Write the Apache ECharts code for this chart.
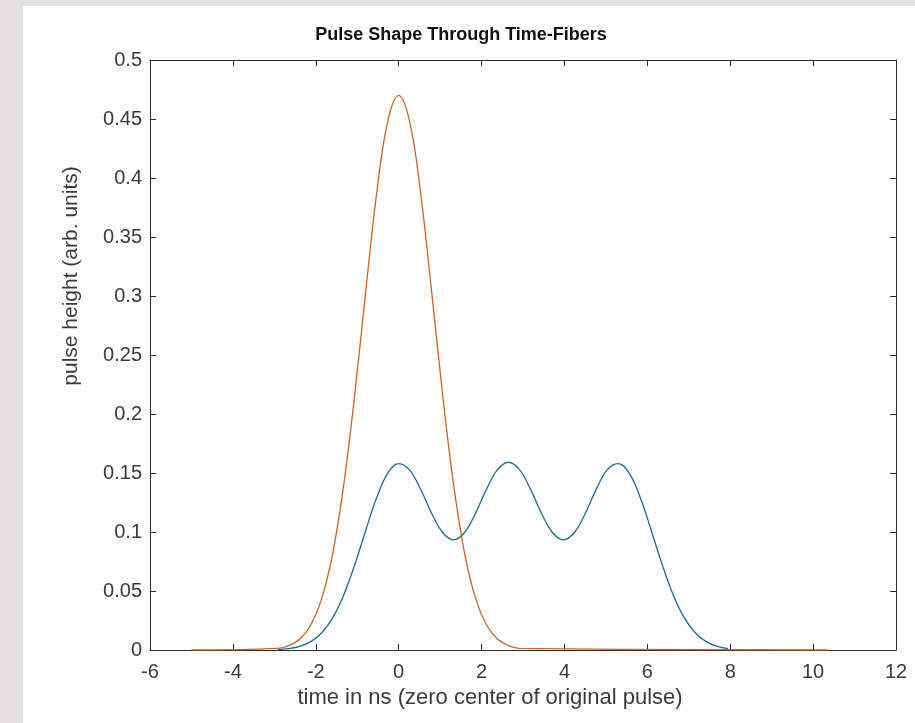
<!DOCTYPE html>
<html>
<head>
<meta charset="utf-8">
<script src="https://cdn.jsdelivr.net/npm/echarts@6/dist/echarts.min.js"></script>
<style>
html,body{margin:0;padding:0;background:#e3e1de;}
#frame{position:absolute;left:23px;top:6px;width:892px;height:717px;background:#ffffff;}
#chart{position:absolute;left:0;top:0;width:915px;height:723px;}
</style>
</head>
<body>
<div id="frame"></div>
<div id="chart"></div>
<script>
// ---- data ----
const titleText = 'Pulse Shape Through Time-Fibers';
const xAxisTitle = 'time in ns (zero center of original pulse)';
const yAxisTitle = 'pulse height (arb. units)';
const xTicks = [-6, -4, -2, 0, 2, 4, 6, 8, 10, 12];
const yTicks = [0, 0.05, 0.1, 0.15, 0.2, 0.25, 0.3, 0.35, 0.4, 0.45, 0.5];

// original pulse (orange)
const origTime = [-5, -2.915, -2.65, -2.385, -2.12, -1.855, -1.59, -1.325, -1.06, -0.795, -0.53, -0.265,
  0, 0.265, 0.53, 0.795, 1.06, 1.325, 1.59, 1.855, 2.12, 2.385, 2.65, 2.915, 10.35];
const origHeight = [0, 0.0013, 0.0037, 0.0093, 0.0212, 0.0438, 0.0822, 0.1402, 0.2166, 0.3039, 0.3872, 0.4478,
  0.470, 0.4478, 0.3872, 0.3039, 0.2166, 0.1402, 0.0822, 0.0438, 0.0212, 0.0093, 0.0037, 0.0013, 0];

// pulse after time-fibers (blue)
const fiberTime = [-2.915, -2.65, -2.385, -2.12, -1.855, -1.59, -1.325, -1.06, -0.795, -0.53, -0.265,
  0, 0.265, 0.53, 0.795, 1.06, 1.325, 1.59, 1.855, 2.12, 2.385, 2.65, 2.915, 3.18, 3.445, 3.71, 3.975,
  4.24, 4.505, 4.77, 5.035, 5.3, 5.565, 5.83, 6.095, 6.36, 6.625, 6.89, 7.155, 7.42, 7.685, 7.95];
const fiberHeight = [0.0004, 0.0012, 0.0031, 0.0071, 0.0146, 0.0274, 0.0467, 0.0722, 0.1013, 0.1292, 0.1497,
  0.1579, 0.1524, 0.1362, 0.1159, 0.0996, 0.0934, 0.0996, 0.1159, 0.1363, 0.1528, 0.1591, 0.1528, 0.1363,
  0.1159, 0.0996, 0.0934, 0.0996, 0.1159, 0.1363, 0.1528, 0.1579, 0.1497, 0.1292, 0.1013, 0.0722, 0.0467,
  0.0274, 0.0146, 0.0071, 0.0031, 0.0012];

const pair = (xs, ys) => xs.map((x, i) => [x, ys[i]]);

const chart = echarts.init(document.getElementById('chart'), null, {renderer: 'canvas'});
const axisCol = '#2b2b2b';
const textCol = '#3a3a3a';
const font = 'Liberation Sans, Arial, sans-serif';
const G = {left: 150, right: 19, top: 60, bottom: 73};
const xAxisBase = {
  type: 'value', min: xTicks[0], max: xTicks[xTicks.length - 1], interval: 2,
  axisLine: {show: true, onZero: false, lineStyle: {color: axisCol, width: 1}},
  axisTick: {show: true, inside: true, length: 6, lineStyle: {color: axisCol}},
  splitLine: {show: false}
};
const yAxisBase = {
  type: 'value', min: yTicks[0], max: yTicks[yTicks.length - 1], interval: 0.05,
  axisLine: {show: true, onZero: false, lineStyle: {color: axisCol, width: 1}},
  axisTick: {show: true, inside: true, length: 6, lineStyle: {color: axisCol}},
  splitLine: {show: false}
};
chart.setOption({
  animation: false,
  backgroundColor: 'transparent',
  grid: G,
  xAxis: [
    Object.assign({}, xAxisBase, {position: 'bottom',
      axisLabel: {show: true, color: textCol, fontSize: 20, fontFamily: font, margin: 12,
        formatter: v => String(v)}}),
    Object.assign({}, xAxisBase, {position: 'top', axisLabel: {show: false}})
  ],
  yAxis: [
    Object.assign({}, yAxisBase, {position: 'left',
      axisLabel: {show: true, color: textCol, fontSize: 20, fontFamily: font, margin: 8,
        formatter: v => String(+v.toFixed(2))}}),
    Object.assign({}, yAxisBase, {position: 'right', axisLabel: {show: false}})
  ],
  title: {
    text: titleText, left: 456, top: 21, textAlign: 'center',
    textStyle: {fontSize: 18, fontWeight: 'bold', color: '#111', fontFamily: font}
  },
  graphic: [
    {type: 'text', x: 490, y: 698,
      style: {text: xAxisTitle, fill: textCol, fontSize: 22, fontFamily: font, align: 'center', verticalAlign: 'middle'}},
    {type: 'text', x: 71, y: 276, rotation: Math.PI / 2,
      style: {text: yAxisTitle, fill: textCol, fontSize: 21, fontFamily: font, align: 'center', verticalAlign: 'middle'}}
  ],
  series: [
    {type: 'line', name: 'through fibers', data: pair(fiberTime, fiberHeight), xAxisIndex: 0, yAxisIndex: 0,
      smooth: 0.4, showSymbol: false, lineStyle: {color: '#176b96', width: 1.3}, z: 3},
    {type: 'line', name: 'original', data: pair(origTime, origHeight), xAxisIndex: 0, yAxisIndex: 0,
      smooth: 0.4, showSymbol: false, lineStyle: {color: '#cc6424', width: 1.3}, z: 4}
  ]
});
</script>
</body>
</html>
